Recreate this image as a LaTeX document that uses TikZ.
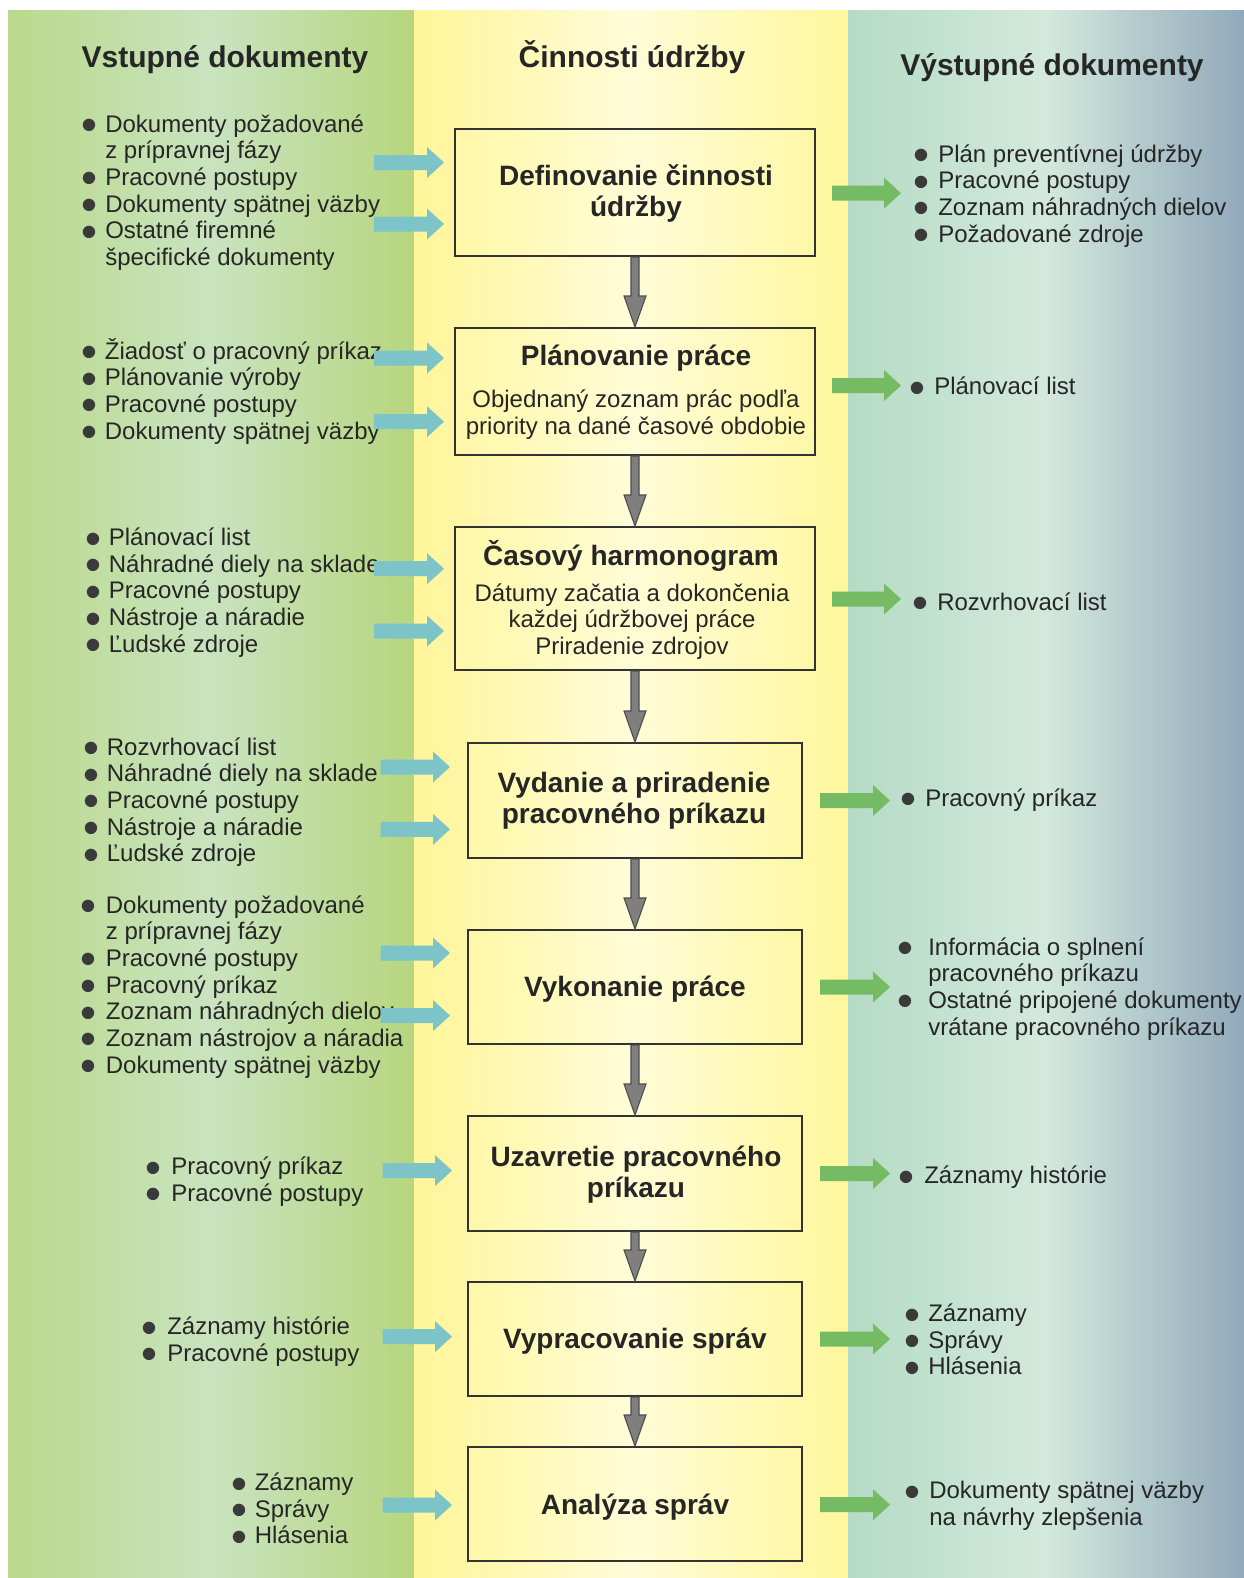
\documentclass[tikz,border=0pt]{standalone}
\usepackage{fontspec}
\setmainfont{Liberation Sans}
\usetikzlibrary{calc}
\definecolor{txt}{HTML}{262626}
\definecolor{lcolL}{HTML}{BAD98B}
\definecolor{lcolM}{HTML}{C9E3BF}
\definecolor{lcolR}{HTML}{B6D67F}
\definecolor{mcolL}{HTML}{FFF599}
\definecolor{mcolM}{HTML}{FFFCD8}
\definecolor{mcolR}{HTML}{FFF79C}
\definecolor{rcolL}{HTML}{B5DBC6}
\definecolor{rcolM}{HTML}{D3E9DC}
\definecolor{rcolR}{HTML}{91A9BB}
\definecolor{boxL}{HTML}{FFF8A8}
\definecolor{boxM}{HTML}{FFFCD6}
\definecolor{boxline}{HTML}{333333}
\definecolor{cyanarr}{HTML}{7DC4C9}
\definecolor{greenarr}{HTML}{74BB63}
\definecolor{grayfill}{HTML}{7F7F7F}
\definecolor{grayline}{HTML}{4D4D4D}
\definecolor{bulcol}{HTML}{3A3A3A}
\newdimen\pxu \pxu=0.75pt
\newdimen\bw
\newcommand{\bl}{\makebox[\bw][l]{\hspace*{-1.7\pxu}\raisebox{-0.36em}[0pt][0pt]{\scalebox{1.9}{\textcolor{bulcol}{\textbullet}}}}}
\newcommand{\ind}{\hspace*{\bw}}
\newcommand{\lst}[2]{\bw=#1\pxu\begin{tabular}[t]{@{}l@{}}#2\end{tabular}}
\newcommand{\ctr}[1]{\begin{tabular}[t]{@{}c@{}}#1\end{tabular}}
\newcommand{\harr}[3]{\fill[#1] ($#2+(0,-7.5)$) -- ($#3+(-17,-7.5)$) -- ($#3+(-17,-15.5)$) -- #3 -- ($#3+(-17,15.5)$) -- ($#3+(-17,7.5)$) -- ($#2+(0,7.5)$) -- cycle;}
\newcommand{\varr}[2]{\filldraw[grayarr] ($#1+(-4,0)$) -- ($#2+(-4,-31)$) -- ($#2+(-11,-31)$) -- #2 -- ($#2+(11,-31)$) -- ($#2+(4,-31)$) -- ($#1+(4,0)$) -- cycle;}
\begin{document}
\begin{tikzpicture}[x=0.75pt,y=-0.75pt,
  hdr/.style={font=\fontsize{22.5}{26}\selectfont\bfseries, text=txt, anchor=base, inner sep=0pt},
  lstn/.style={font=\fontsize{18}{20}\selectfont, text=txt, anchor=base west, inner sep=0pt},
  subn/.style={font=\fontsize{18}{20}\selectfont, text=txt, anchor=base, inner sep=0pt},
  ttl/.style={font=\fontsize{21}{23.6}\selectfont\bfseries, text=txt, anchor=base, inner sep=0pt},
  procbox/.style={draw=boxline, line width=1.5pt, left color=boxL, right color=boxL, middle color=boxM, inner sep=0pt},
  wideb/.style={procbox, minimum width=270pt},
  narrb/.style={procbox, minimum width=250.5pt},
  grayarr/.style={fill=grayfill, draw=grayline, line width=0.8pt},
  cyanfill/.style={fill=cyanarr},
  greenfill/.style={fill=greenarr}]
\useasboundingbox (0,0) rectangle (1244,1578);
\fill[white] (0,0) rectangle (1244,1578);
\shade[left color=lcolL, right color=lcolR, middle color=lcolM] (8,10) rectangle (414,1578);
\shade[left color=mcolL, right color=mcolR, middle color=mcolM] (414,10) rectangle (848,1578);
\shade[left color=rcolL, right color=rcolR, middle color=rcolM] (848,10) rectangle (1244,1578);

% headers
\node[hdr] (h1) at (225,67) {Vstupné dokumenty};
\node[hdr] (h2) at (632,67) {Činnosti údržby};
\node[hdr] (h3) at (1052,75.5) {Výstupné dokumenty};

% boxes
\node[wideb, minimum height=95.25pt] (b1) at (635,192.5) {};
\node[wideb, minimum height=95.25pt] (b2) at (635,391.5) {};
\node[wideb, minimum height=107.25pt] (b3) at (635,598.5) {};
\node[narrb, minimum height=86.25pt] (b4) at (635,800.5) {};
\node[narrb, minimum height=85.5pt] (b5) at (635,987) {};
\node[narrb, minimum height=86.25pt] (b6) at (635,1173.5) {};
\node[narrb, minimum height=85.5pt] (b7) at (635,1339) {};
\node[narrb, minimum height=85.5pt] (b8) at (635,1504) {};

% vertical connectors
\varr{(b1.south)}{(b2.north)}
\varr{(b2.south)}{(b3.north)}
\varr{(b3.south)}{(b4.north)}
\varr{(b4.south)}{(b5.north)}
\varr{(b5.south)}{(b6.north)}
\varr{(b6.south)}{(b7.north)}
\varr{(b7.south)}{(b8.north)}

% box texts
\node[ttl] (t1) at (636,185) {\ctr{Definovanie činnosti\\údržby}};
\node[ttl] (t2) at (636,365) {Plánovanie práce};
\node[subn] (s2) at (636,407.6) {\ctr{Objednaný zoznam prác podľa\\priority na dané časové obdobie}};
\node[ttl] (t3) at (631,565.6) {Časový harmonogram};
\node[subn] (s3) at (632,601) {\ctr{Dátumy začatia a dokončenia\\každej údržbovej práce\\Priradenie zdrojov}};
\node[ttl] (t4) at (634,792) {\ctr{Vydanie a priradenie\\pracovného príkazu}};
\node[ttl] (t5) at (635,996) {Vykonanie práce};
\node[ttl] (t6) at (636,1166.5) {\ctr{Uzavretie pracovného\\príkazu}};
\node[ttl] (t7) at (635,1348.6) {Vypracovanie správ};
\node[ttl] (t8) at (635,1514.7) {Analýza správ};

% left lists
\node[lstn] (l1) at (83,132) {\lst{22}{\bl Dokumenty požadované\\ \ind z prípravnej fázy\\ \bl Pracovné postupy\\ \bl Dokumenty spätnej väzby\\ \bl Ostatné firemné\\ \ind špecifické dokumenty}};
\node[lstn] (l2) at (82.6,359) {\lst{22}{\bl Žiadosť o pracovný príkaz\\ \bl Plánovanie výroby\\ \bl Pracovné postupy\\ \bl Dokumenty spätnej väzby}};
\node[lstn] (l3) at (86.6,545.5) {\lst{22}{\bl Plánovací list\\ \bl Náhradné diely na sklade\\ \bl Pracovné postupy\\ \bl Nástroje a náradie\\ \bl Ľudské zdroje}};
\node[lstn] (l4) at (84.6,755) {\lst{22}{\bl Rozvrhovací list\\ \bl Náhradné diely na sklade\\ \bl Pracovné postupy\\ \bl Nástroje a náradie\\ \bl Ľudské zdroje}};
\node[lstn] (l5) at (81.6,913) {\lst{24}{\bl Dokumenty požadované\\ \ind z prípravnej fázy\\ \bl Pracovné postupy\\ \bl Pracovný príkaz\\ \bl Zoznam náhradných dielov\\ \bl Zoznam nástrojov a náradia\\ \bl Dokumenty spätnej väzby}};
\node[lstn] (l6) at (147,1174.5) {\lst{24}{\bl Pracovný príkaz\\ \bl Pracovné postupy}};
\node[lstn] (l7) at (143,1334.5) {\lst{24}{\bl Záznamy histórie\\ \bl Pracovné postupy}};
\node[lstn] (l8) at (232.5,1490.5) {\lst{22}{\bl Záznamy\\ \bl Správy\\ \bl Hlásenia}};

% right lists
\node[lstn] (r1) at (915,162) {\lst{23}{\bl Plán preventívnej údržby\\ \bl Pracovné postupy\\ \bl Zoznam náhradných dielov\\ \bl Požadované zdroje}};
\node[lstn] (r2) at (911,394.5) {\lst{23}{\bl Plánovací list}};
\node[lstn] (r3) at (914,610) {\lst{23}{\bl Rozvrhovací list}};
\node[lstn] (r4) at (902,806) {\lst{23}{\bl Pracovný príkaz}};
\node[lstn] (r5) at (899,955) {\lst{29}{\bl Informácia o splnení\\ \ind pracovného príkazu\\ \bl Ostatné pripojené dokumenty\\ \ind vrátane pracovného príkazu}};
\node[lstn] (r6) at (900,1183.6) {\lst{24}{\bl Záznamy histórie}};
\node[lstn] (r7) at (906,1321.5) {\lst{22}{\bl Záznamy\\ \bl Správy\\ \bl Hlásenia}};
\node[lstn] (r8) at (906,1498.6) {\lst{23}{\bl Dokumenty spätnej väzby\\ \ind na návrhy zlepšenia}};

% input arrows (cyan)
\coordinate (i1a) at (374,162.5);   \coordinate (i1b) at ($(b1.west|-i1a)+(-10,0)$);
\coordinate (i2a) at (374,224);     \coordinate (i2b) at ($(b1.west|-i2a)+(-10,0)$);
\coordinate (i3a) at (374,358);     \coordinate (i3b) at ($(b2.west|-i3a)+(-10,0)$);
\coordinate (i4a) at (374,421.7);   \coordinate (i4b) at ($(b2.west|-i4a)+(-10,0)$);
\coordinate (i5a) at (374,568.7);   \coordinate (i5b) at ($(b3.west|-i5a)+(-10,0)$);
\coordinate (i6a) at (374,631);     \coordinate (i6b) at ($(b3.west|-i6a)+(-10,0)$);
\coordinate (i7a) at (380.5,767);   \coordinate (i7b) at ($(b4.west|-i7a)+(-17,0)$);
\coordinate (i8a) at (380.5,829.4); \coordinate (i8b) at ($(b4.west|-i8a)+(-17,0)$);
\coordinate (i9a) at (380.5,953);   \coordinate (i9b) at ($(b5.west|-i9a)+(-17,0)$);
\coordinate (i10a) at (380.5,1015.6); \coordinate (i10b) at ($(b5.west|-i10a)+(-17,0)$);
\coordinate (i11a) at (382.5,1170.6); \coordinate (i11b) at ($(b6.west|-i11a)+(-15,0)$);
\coordinate (i12a) at (382.5,1336.6); \coordinate (i12b) at ($(b7.west|-i12a)+(-15,0)$);
\coordinate (i13a) at (382.5,1505);   \coordinate (i13b) at ($(b8.west|-i13a)+(-15,0)$);
\harr{cyanfill}{(i1a)}{(i1b)}
\harr{cyanfill}{(i2a)}{(i2b)}
\harr{cyanfill}{(i3a)}{(i3b)}
\harr{cyanfill}{(i4a)}{(i4b)}
\harr{cyanfill}{(i5a)}{(i5b)}
\harr{cyanfill}{(i6a)}{(i6b)}
\harr{cyanfill}{(i7a)}{(i7b)}
\harr{cyanfill}{(i8a)}{(i8b)}
\harr{cyanfill}{(i9a)}{(i9b)}
\harr{cyanfill}{(i10a)}{(i10b)}
\harr{cyanfill}{(i11a)}{(i11b)}
\harr{cyanfill}{(i12a)}{(i12b)}
\harr{cyanfill}{(i13a)}{(i13b)}

% output arrows (green)
\coordinate (o1a) at ($(b1.east)+(16,0.7)$);  \coordinate (o1b) at ($(b1.east)+(85,0.7)$);
\coordinate (o2a) at ($(b2.east)+(16,-6)$);   \coordinate (o2b) at ($(b2.east)+(85,-6)$);
\coordinate (o3a) at ($(b3.east)+(16,0.5)$);  \coordinate (o3b) at ($(b3.east)+(85,0.5)$);
\coordinate (o4a) at ($(b4.east)+(17,0)$);    \coordinate (o4b) at ($(b4.east)+(87,0)$);
\coordinate (o5a) at ($(b5.east)+(17,0)$);    \coordinate (o5b) at ($(b5.east)+(87,0)$);
\coordinate (o6a) at ($(b6.east)+(17,0)$);    \coordinate (o6b) at ($(b6.east)+(87,0)$);
\coordinate (o7a) at ($(b7.east)+(17,0)$);    \coordinate (o7b) at ($(b7.east)+(87,0)$);
\coordinate (o8a) at ($(b8.east)+(17,0.7)$);  \coordinate (o8b) at ($(b8.east)+(87,0.7)$);
\harr{greenfill}{(o1a)}{(o1b)}
\harr{greenfill}{(o2a)}{(o2b)}
\harr{greenfill}{(o3a)}{(o3b)}
\harr{greenfill}{(o4a)}{(o4b)}
\harr{greenfill}{(o5a)}{(o5b)}
\harr{greenfill}{(o6a)}{(o6b)}
\harr{greenfill}{(o7a)}{(o7b)}
\harr{greenfill}{(o8a)}{(o8b)}
\end{tikzpicture}
\end{document}
